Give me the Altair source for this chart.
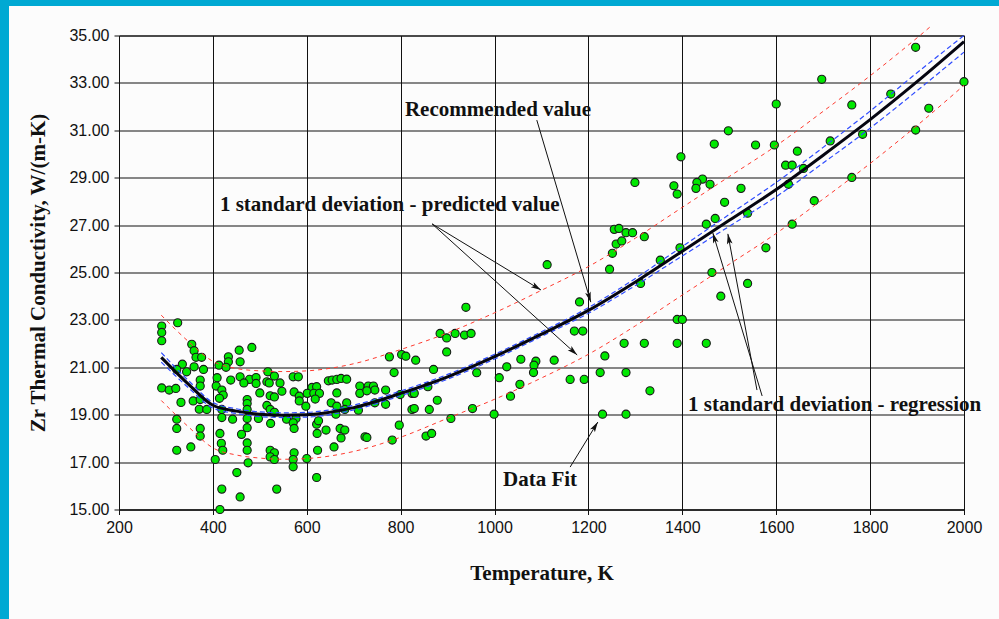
import math
import altair as alt
import pandas as pd

# ---------------- data ----------------
# measured points (temperature K, conductivity W/(m-K)), grouped by region
A_T = [325, 291, 291, 291, 355, 360, 364, 376, 483, 456,
       433, 433, 458, 335, 323, 344, 360, 380, 413, 428,
       409, 438, 458, 478, 492, 466, 492, 515, 520, 517,
       531, 543, 571, 582, 373, 373, 291, 307, 321, 407,
       419, 422, 414, 332, 358, 373, 371, 387, 419, 473,
       473, 473, 500, 522, 531, 547, 573, 584, 584, 598,
       515, 522, 531, 323, 323, 373, 373, 419, 442, 473,
       497, 523, 557, 577, 571, 573, 621, 622, 473, 461,
       415, 418, 421, 473, 473, 323, 353, 522, 531, 522,
       531, 573, 571, 571, 600, 623, 405, 475, 451, 419,
       458, 536, 415, 621]
A_V = [22.88, 22.74, 22.47, 22.12, 21.97, 21.70, 21.42, 21.42, 21.84, 21.72,
       21.44, 21.23, 21.23, 21.13, 20.91, 20.81, 21.02, 20.91, 21.09, 21.00,
       20.56, 20.46, 20.60, 20.49, 20.57, 20.34, 20.32, 20.39, 20.34, 20.81,
       20.63, 20.34, 20.60, 20.60, 20.46, 20.21, 20.13, 20.04, 20.11, 20.21,
       20.04, 19.83, 19.69, 19.52, 19.58, 19.64, 19.23, 19.22, 19.22, 19.64,
       19.47, 19.22, 19.92, 19.80, 19.75, 19.99, 19.96, 19.78, 19.58, 19.36,
       19.39, 19.22, 19.10, 18.81, 18.42, 18.42, 18.10, 18.88, 18.81, 18.84,
       18.84, 18.63, 18.81, 18.84, 18.66, 18.42, 18.60, 18.21, 18.45, 18.17,
       18.21, 17.79, 17.50, 17.81, 17.50, 17.50, 17.64, 17.50, 17.39, 17.22,
       17.11, 17.39, 17.11, 16.80, 17.15, 17.50, 17.11, 16.97, 16.56, 15.86,
       15.53, 15.86, 15.00, 16.35]

B_T = [939, 884, 898, 916, 936, 950, 898, 776, 802, 811,
       832, 786, 870, 646, 654, 664, 673, 685, 611, 621,
       601, 615, 627, 618, 664, 713, 713, 731, 742, 745,
       728, 768, 799, 824, 829, 858, 652, 664, 685, 681,
       662, 710, 745, 768, 878, 824, 829, 861, 953, 962,
       625, 641, 671, 681, 673, 724, 728, 658, 797, 782,
       854, 866, 907]
B_V = [23.53, 22.43, 22.24, 22.43, 22.36, 22.43, 21.65, 21.44, 21.54, 21.47,
       21.30, 20.78, 20.91, 20.43, 20.46, 20.49, 20.53, 20.50, 20.15, 20.18,
       19.90, 19.90, 19.90, 19.66, 19.92, 20.21, 19.90, 20.21, 20.21, 20.04,
       20.01, 20.04, 19.85, 19.90, 19.90, 20.18, 19.50, 19.36, 19.50, 19.22,
       19.02, 19.19, 19.50, 19.44, 19.61, 19.22, 19.26, 19.22, 19.26, 20.77,
       18.74, 18.35, 18.42, 18.35, 18.02, 18.07, 18.04, 17.64, 18.56, 17.93,
       18.10, 18.21, 18.84]

C_T = [1181, 1170, 1188, 1276, 1235, 1056, 1088, 1084, 1127, 1026,
       1083, 1225, 1280, 1010, 1161, 1191, 1054, 1034, 999, 1230,
       1280, 1112]
C_V = [23.76, 22.53, 22.53, 22.01, 21.48, 21.34, 21.26, 21.09, 21.30, 21.02,
       20.78, 20.78, 20.78, 20.56, 20.49, 20.49, 20.28, 19.78, 19.02, 19.02,
       19.02, 25.33]

D_T = [1255, 1265, 1280, 1294, 1259, 1271, 1251, 1319, 1451, 1395,
       1353, 1245, 1311, 1463, 1539, 1578, 1634, 1482, 1389, 1400,
       1319, 1389, 1451, 1331,
       1600, 1498, 1468, 1556, 1596, 1645, 1397, 1620, 1634, 1443,
       1431, 1459, 1429, 1626, 1299, 1382, 1389, 1525, 1490, 1539,
       1470]
D_V = [26.82, 26.86, 26.68, 26.68, 26.20, 26.33, 25.81, 26.51, 27.04, 26.04,
       25.52, 25.14, 24.54, 25.00, 24.54, 26.04, 27.04, 24.00, 23.02, 23.02,
       22.01, 22.01, 22.01, 20.01,
       32.11, 30.98, 30.42, 30.38, 30.38, 30.12, 29.88, 29.53, 29.53, 28.94,
       28.80, 28.72, 28.55, 28.72, 28.80, 28.66, 28.31, 28.55, 27.96, 27.50,
       27.28]

E_T = [1897, 1697, 2000, 1844, 1761, 1925, 1784, 1897, 1715, 1658, 1761, 1681]
E_V = [34.50, 33.15, 33.05, 32.53, 32.07, 31.93, 30.83, 31.01, 30.55, 29.39, 29.01, 28.03]

# recommended value curve and its bands, read at these temperatures
FIT_T = [290, 350, 400, 450, 500, 550, 600, 700, 800, 900, 1000,
         1100, 1200, 1300, 1400, 1500, 1600, 1700, 1800, 1900, 2000]
FIT_V = [21.42, 20.25, 19.40, 19.15, 19.02, 18.98, 19.00, 19.30, 19.90, 20.60, 21.45,
         22.40, 23.40, 24.60, 25.90, 27.20, 28.50, 29.95, 31.45, 33.05, 34.74]
REG_HI = [21.62, 20.40, 19.52, 19.25, 19.12, 19.08, 19.10, 19.40, 20.00, 20.70, 21.55,
          22.50, 23.52, 24.75, 26.10, 27.45, 28.80, 30.28, 31.81, 33.43, 35.00]
REG_LO = [21.22, 20.10, 19.28, 19.05, 18.92, 18.88, 18.90, 19.20, 19.80, 20.50, 21.35,
          22.30, 23.28, 24.45, 25.70, 26.95, 28.20, 29.62, 31.09, 32.67, 34.30]
PRED_HI_T = [290, 350, 400, 450, 500, 550, 600, 700, 800, 900, 1000,
             1100, 1200, 1300, 1400, 1500, 1600, 1700, 1800, 1900, 1930]
PRED_HI = [23.20, 22.05, 21.25, 20.95, 20.85, 20.82, 20.85, 21.15, 21.75, 22.45, 23.30,
           24.25, 25.25, 26.45, 27.75, 29.05, 30.35, 31.80, 33.30, 34.90, 35.40]
PRED_LO = [19.60, 18.45, 17.60, 17.30, 17.17, 17.12, 17.15, 17.45, 18.05, 18.85, 19.65,
           20.55, 21.55, 22.75, 24.05, 25.35, 26.65, 28.10, 29.60, 31.20, 32.90]

# annotations
LABELS = ["Recommended value",
          "1 standard deviation - predicted value",
          "1 standard deviation - regression",
          "Data Fit"]
LABEL_T = [809, 415, 1412, 1018]
LABEL_V = [31.86, 27.85, 19.41, 16.25]

ARROW_T0 = [1090, 867, 867, 1570, 1559, 1161]
ARROW_V0 = [31.43, 27.05, 27.05, 19.79, 20.04, 16.79]
ARROW_T1 = [1205, 1099, 1176, 1465, 1497, 1220]
ARROW_V1 = [23.75, 24.26, 21.52, 26.67, 26.63, 18.69]

X_DOMAIN = [200, 2000]
Y_DOMAIN = [15, 35]
X_TICKS = list(range(200, 2001, 200))
Y_TICKS = list(range(15, 36, 2))

# ---------------- layout ----------------
W, H = 845, 474
PAD_L, PAD_T, PAD_R, PAD_B = 119, 35.5, 35, 109.5
CYAN = "#00A9D3"
BG = "#FCFCFC"
SERIF = "Liberation Serif"
SANS = "Liberation Sans"
SERIF_SIZE = 21

pts = pd.DataFrame({"T": A_T + B_T + C_T + D_T + E_T,
                    "V": A_V + B_V + C_V + D_V + E_V})
fit = pd.DataFrame({"T": FIT_T, "V": FIT_V, "hi": REG_HI, "lo": REG_LO, "plo": PRED_LO})
phi = pd.DataFrame({"T": PRED_HI_T, "V": PRED_HI})
lab = pd.DataFrame({"T": LABEL_T, "V": LABEL_V, "text": LABELS})


def angle(t0, v0, t1, v1):
    # direction of travel in screen pixels; arrowhead path points "up" when unrotated
    dx = (t1 - t0) / (X_DOMAIN[1] - X_DOMAIN[0]) * W
    dy = -(v1 - v0) / (Y_DOMAIN[1] - Y_DOMAIN[0]) * H
    return math.degrees(math.atan2(dx, -dy)) % 360


arr = pd.DataFrame({"T0": ARROW_T0, "V0": ARROW_V0, "T1": ARROW_T1, "V1": ARROW_V1})
arr["ang"] = [angle(a, b, c, d) for a, b, c, d in zip(ARROW_T0, ARROW_V0, ARROW_T1, ARROW_V1)]

xs = alt.Scale(domain=X_DOMAIN, nice=False, zero=False)
ys = alt.Scale(domain=Y_DOMAIN, nice=False, zero=False)

common = dict(grid=True, gridColor="#111", gridWidth=1, gridOpacity=1,
              domainColor="#111", tickColor="#111", tickSize=5,
              labelFont=SANS, labelFontSize=16, labelColor="#111", labelPadding=5,
              labelFlush=False, labelOverlap=False, labelBound=False,
              titleFont=SERIF, titleFontSize=SERIF_SIZE, titleFontWeight="bold",
              titleColor="#111")
x_axis = alt.Axis(values=X_TICKS, format="d", title="Temperature, K",
                  titlePadding=27, **common)
y_axis = alt.Axis(values=Y_TICKS, format=".2f", title="Zr Thermal Conductivity, W/(m-K)",
                  titlePadding=20, **common)

one = pd.DataFrame({"k": [0]})
left_strip = alt.Chart(one).mark_rect(color=CYAN).encode(
    x=alt.value(-PAD_L), x2=alt.value(-PAD_L + 9),
    y=alt.value(-PAD_T), y2=alt.value(H + PAD_B))
top_strip = alt.Chart(one).mark_rect(color=CYAN).encode(
    x=alt.value(-PAD_L), x2=alt.value(W + PAD_R),
    y=alt.value(-PAD_T), y2=alt.value(-PAD_T + 6))

X = alt.X("T:Q", scale=xs, axis=x_axis)
Y = alt.Y("V:Q", scale=ys, axis=y_axis)

scatter = alt.Chart(pts).mark_point(shape="circle", filled=True, size=66,
                                    fill="#00E800", stroke="#1a1a1a",
                                    strokeWidth=1.1, opacity=1).encode(x=X, y=Y)

red_hi = alt.Chart(phi).mark_line(color="#FF3B30", strokeWidth=1, strokeDash=[4, 4],
                                  interpolate="monotone").encode(x=X, y=Y)
red_lo = alt.Chart(fit).mark_line(color="#FF3B30", strokeWidth=1, strokeDash=[4, 4],
                                  interpolate="monotone").encode(x=X, y=alt.Y("plo:Q", scale=ys))
blue_hi = alt.Chart(fit).mark_line(color="#2E4BFF", strokeWidth=1.2, strokeDash=[5, 3],
                                   interpolate="monotone").encode(x=X, y=alt.Y("hi:Q", scale=ys))
blue_lo = alt.Chart(fit).mark_line(color="#2E4BFF", strokeWidth=1.2, strokeDash=[5, 3],
                                   interpolate="monotone").encode(x=X, y=alt.Y("lo:Q", scale=ys))
black = alt.Chart(fit).mark_line(color="#050510", strokeWidth=3,
                                 interpolate="monotone").encode(x=X, y=Y)

arrow_lines = alt.Chart(arr).mark_rule(color="#111", strokeWidth=1).encode(
    x=alt.X("T0:Q", scale=xs), y=alt.Y("V0:Q", scale=ys),
    x2="T1:Q", y2="V1:Q")
arrow_heads = alt.Chart(arr).mark_point(
    shape="M0,0L0.5,1.8L0,1.4L-0.5,1.8Z", filled=True, size=130,
    color="#111", opacity=1).encode(
    x=alt.X("T1:Q", scale=xs), y=alt.Y("V1:Q", scale=ys),
    angle=alt.Angle("ang:Q", scale=None))

texts = alt.Chart(lab).mark_text(font=SERIF, fontSize=SERIF_SIZE, fontWeight="bold",
                                 align="left", baseline="middle", color="#111").encode(
    x=alt.X("T:Q", scale=xs), y=alt.Y("V:Q", scale=ys), text="text:N")

chart = alt.layer(
    left_strip, top_strip, scatter, red_hi, red_lo, blue_hi, blue_lo, black,
    arrow_lines, arrow_heads, texts
).properties(
    width=W, height=H,
    autosize=alt.AutoSizeParams(type="none"),
    padding={"left": PAD_L, "top": PAD_T, "right": PAD_R, "bottom": PAD_B},
    background=BG,
).configure_view(stroke="#111", strokeWidth=1)

chart.save("out.html", embed_options={"renderer": "svg", "actions": False})
